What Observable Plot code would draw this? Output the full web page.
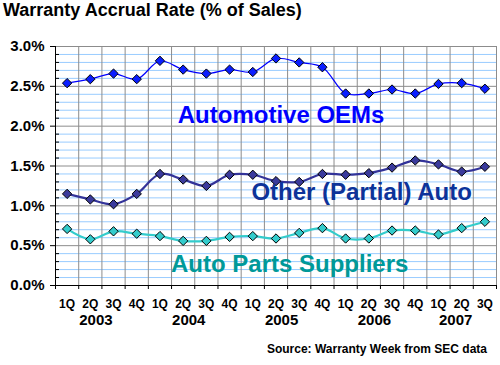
<!DOCTYPE html>
<html><head><meta charset="utf-8">
<script src="https://cdn.jsdelivr.net/npm/d3@7"></script>
<script src="https://cdn.jsdelivr.net/npm/@observablehq/plot@0.6"></script>
<style>
body{margin:0;background:#fff;font-family:"Liberation Sans",Arial,sans-serif;}
#wrap{width:500px;height:365px;overflow:hidden;background:#fff;}
#title{height:28px;line-height:20px;font-size:18px;font-weight:bold;padding-left:3px;color:#000;white-space:nowrap;}
#chart svg{display:block;}
#source{height:14px;line-height:14px;font-size:12px;font-weight:bold;text-align:right;padding-right:13px;margin-top:14px;color:#000;}
</style></head>
<body>
<div id="wrap">
  <div id="title">Warranty Accrual Rate (% of Sales)</div>
  <div id="chart"></div>
  <div id="source">Source: Warranty Week from SEC data</div>
</div>
<script>
const quarterLabels = ["1Q","2Q","3Q","4Q","1Q","2Q","3Q","4Q","1Q","2Q","3Q","4Q","1Q","2Q","3Q","4Q","1Q","2Q","3Q"];
const years = ["2003","2004","2005","2006","2007"];
const seriesNames = ["Automotive OEMs","Other (Partial) Auto","Auto Parts Suppliers"];
const oemRate   = [2.54,2.59,2.66,2.59,2.82,2.71,2.66,2.71,2.68,2.85,2.80,2.74,2.41,2.41,2.46,2.41,2.53,2.54,2.47];
const otherRate = [1.15,1.08,1.02,1.15,1.40,1.33,1.25,1.39,1.39,1.31,1.30,1.40,1.39,1.41,1.48,1.57,1.52,1.43,1.49];
const partsRate = [0.71,0.58,0.68,0.65,0.62,0.56,0.56,0.61,0.62,0.59,0.66,0.72,0.59,0.59,0.69,0.69,0.64,0.72,0.80];

const FONT = '"Liberation Sans", Arial, sans-serif';
const idx = d3.range(quarterLabels.length);
const rows = s => idx.map(i => ({i, v: s[i]}));
const boundaries = d3.range(0, quarterLabels.length + 1).map(k => k - 0.5);
const minor = d3.range(1, 30).filter(k => k % 5).map(k => k / 10);
const major = d3.range(1, 7).map(k => k / 2);
const yearCenter = years.map((y, k) => d3.mean(idx.filter(i => Math.floor(i / 4) === k)));

const series = [
  {data: oemRate,   line: "#0000ff", fill: "#0a1eff", width: 1.2, label: "#0000ff", lx: 9.22, ly: 2.13},
  {data: otherRate, line: "#333399", fill: "#3a3a9c", width: 2.2, label: "#0d3399", lx: 12.69, ly: 1.164},
  {data: partsRate, line: "#33cccc", fill: "#33cccc", width: 2.2, label: "#009999", lx: 9.59, ly: 0.266}
];

const marks = [
  Plot.ruleY(minor, {stroke: "#99ccff", strokeWidth: 1}),
  Plot.ruleY(major, {stroke: "#8c8c8c", strokeWidth: 1}),
  Plot.ruleX(boundaries.slice(1), {stroke: "#8c8c8c", strokeWidth: 1}),
  Plot.ruleX([boundaries[0]], {stroke: "#000"}),
  Plot.ruleY([0], {stroke: "#000"}),
  Plot.axisY([0].concat(major), {tickSize: 5, tickPadding: 6, tickFormat: d => d.toFixed(1) + "%", fontSize: 15, fontWeight: "bold", label: null, stroke: "#000"}),
  Plot.axisY(minor, {tickSize: -4, tickFormat: () => "", label: null}),
  Plot.axisX(boundaries, {tickSize: 4, tickFormat: () => "", label: null}),
  Plot.axisX(idx, {tickSize: 0, tickPadding: 14, tickFormat: i => quarterLabels[i], fontSize: 12, fontWeight: "bold", label: null}),
  Plot.text(years, {x: (d, k) => yearCenter[k], y: () => 0, dy: 35, dx: -6, fontSize: 15, fontWeight: "bold", fill: "#000"})
];
series.forEach(s => {
  marks.push(Plot.line(rows(s.data), {x: "i", y: "v", stroke: s.line, strokeWidth: s.width, curve: "catmull-rom"}));
  marks.push(Plot.dot(rows(s.data), {x: "i", y: "v", symbol: "diamond2", r: 4.2, fill: s.fill, stroke: "#000", strokeWidth: 1}));
});
marks.push(Plot.text(series.map((s, k) => ({name: seriesNames[k], x: s.lx, y: s.ly, c: s.label})),
  {x: "x", y: "y", text: "name", fill: d => d.c, fontSize: 24, fontWeight: "bold"}));

const chart = Plot.plot({
  width: 500, height: 300,
  marginTop: 18, marginBottom: 43, marginLeft: 55, marginRight: 4,
  style: {fontFamily: FONT, fontSize: "12px", color: "#000", background: "#fff", overflow: "visible"},
  x: {domain: [-0.5, 18.5]},
  y: {domain: [0, 3]},
  marks
});
document.getElementById("chart").appendChild(chart);
</script>
</body></html>
